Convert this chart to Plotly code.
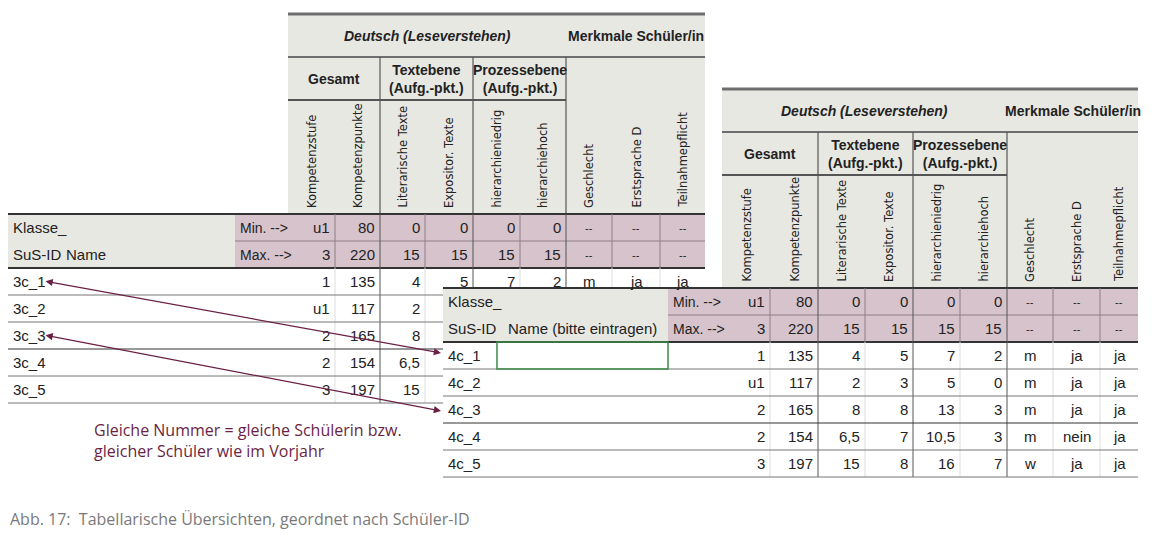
import plotly.graph_objects as go

# ---------------- data ----------------
col_headers = ["Kompetenzstufe", "Kompetenzpunkte", "Literarische Texte", "Expositor. Texte",
               "hierarchieniedrig", "hierarchiehoch", "Geschlecht", "Erstsprache D", "Teilnahmepflicht"]
group_headers = ["Gesamt", "Textebene<br>(Aufg.-pkt.)", "Prozessebene<br>(Aufg.-pkt.)"]
min_row = ["u1", "80", "0", "0", "0", "0", "--", "--", "--"]
max_row = ["3", "220", "15", "15", "15", "15", "--", "--", "--"]
ids_prev = ["3c_1", "3c_2", "3c_3", "3c_4", "3c_5"]
ids_curr = ["4c_1", "4c_2", "4c_3", "4c_4", "4c_5"]
kstufe = ["1", "u1", "2", "2", "3"]
kpunkte = ["135", "117", "165", "154", "197"]
lit = ["4", "2", "8", "6,5", "15"]
expo = ["5", "3", "8", "7", "8"]
hniedrig = ["7", "5", "13", "10,5", "16"]
hhoch = ["2", "0", "3", "3", "7"]
geschlecht = ["m", "m", "m", "m", "w"]
erstsprache = ["ja", "ja", "ja", "nein", "ja"]
teilnahme = ["ja", "ja", "ja", "ja", "ja"]
note_text = "Gleiche Nummer = gleiche Schülerin bzw.<br>gleicher Schüler wie im Vorjahr"
caption = "Abb. 17:  Tabellarische Übersichten, geordnet nach Schüler-ID"

GRAY = "#e8e8e3"
PINK = "#d6c3cb"
DARK = "#555555"
PURPLE = "#6b1f45"
NARROW = "Liberation Sans Narrow, Arial Narrow, sans-serif"

shapes, annos = [], []
CLIP = None  # (x, y): region right of x and below y is hidden for the back table

def hidden(x, y):
    return CLIP is not None and x > CLIP[0] and y > CLIP[1]

def rect(x0, y0, x1, y1, color, line=None):
    shapes.append(dict(type="rect", x0=x0, y0=y0, x1=x1, y1=y1, fillcolor=color,
                       line=dict(width=0) if line is None else line, layer="below"))

def hline(x0, x1, y, color=DARK, w=1.5):
    if CLIP is not None and y > CLIP[1]:
        x1 = min(x1, CLIP[0])
    shapes.append(dict(type="line", x0=x0, x1=x1, y0=y, y1=y, line=dict(color=color, width=w)))

def vline(x, y0, y1, color=DARK, w=1):
    if CLIP is not None and x > CLIP[0]:
        y1 = min(y1, CLIP[1])
    if y1 > y0:
        shapes.append(dict(type="line", x0=x, x1=x, y0=y0, y1=y1, line=dict(color=color, width=w)))

def text(x, y, s, xa="center", size=14, font=NARROW, color="#222", angle=0, ya="middle"):
    if hidden(x, y):
        return
    annos.append(dict(x=x, y=y, text=s, xanchor=xa, yanchor=ya, showarrow=False, textangle=angle,
                      align="left" if xa == "left" else "center",
                      font=dict(family=font, size=size, color=color)))

def table(x0, xlab, xmin, widths, top, hdr_h, rot_h, row_h, ids, name_label, name_x, white_cover=False):
    xs = [xmin]
    for w in widths:
        xs.append(xs[-1] + w)
    xe = xs[-1]
    y1 = top + hdr_h
    y2 = y1 + hdr_h
    y3 = y2 + rot_h
    ymin = y3 + row_h
    ymax = ymin + row_h
    yend = ymax + row_h * len(ids)
    if white_cover:
        rect(x0, y3, xe, yend, "white")
    rect(xs[0], top, xe, y3, GRAY)
    rect(x0, y3, xlab, ymax, GRAY)
    rect(xlab, y3, xe, ymax, PINK)
    hline(xs[0], xe, top, "#6e6e6e", 3)
    hline(xs[0], xe, y1, "#6e6e6e", 2)
    hline(xs[0], xs[6], y2, DARK, 2)
    for i in (2, 4, 6):
        vline(xs[i], y1, y3, DARK, 1.2)
    text((xs[0] + xs[6]) / 2, (top + y1) / 2, "<b><i>Deutsch (Leseverstehen)</i></b>", size=14)
    text((xs[6] + xe) / 2, (top + y1) / 2, "<b>Merkmale Schüler/in</b>", size=14)
    for g, h in enumerate(group_headers):
        text((xs[2 * g] + xs[2 * g + 2]) / 2, (y1 + y2) / 2, "<b>" + h + "</b>", size=14)
    for i, h in enumerate(col_headers):
        text((xs[i] + xs[i + 1]) / 2, y3 - 4, h, size=11.5, font="DejaVu Sans", angle=-90, ya="bottom")
    hline(x0, xe, y3, "#333", 2)
    hline(xlab, xe, ymin, "#8e7f86", 1)
    hline(x0, xe, ymax, "#333", 2)
    text(x0 + 3, (y3 + ymin) / 2, "Klasse_", xa="left", size=15)
    text(x0 + 3, (ymin + ymax) / 2, "SuS-ID", xa="left", size=15)
    text(name_x, (ymin + ymax) / 2, name_label, xa="center" if "bitte" in name_label else "left", size=15)
    text(xlab + 3, (y3 + ymin) / 2, "Min. -->", xa="left", size=14)
    text(xlab + 3, (ymin + ymax) / 2, "Max. -->", xa="left", size=14)
    cols = [kstufe, kpunkte, lit, expo, hniedrig, hhoch, geschlecht, erstsprache, teilnahme]
    for i in range(9):
        xa = "right" if i < 6 else "center"
        xx = xs[i + 1] - 3 if i < 6 else (xs[i] + xs[i + 1]) / 2
        text(xx, (y3 + ymin) / 2, min_row[i], xa=xa, size=15 if i < 6 else 11)
        text(xx, (ymin + ymax) / 2, max_row[i], xa=xa, size=15 if i < 6 else 11)
        for r in range(len(ids)):
            yy = ymax + row_h * (r + 0.5)
            text(xx, yy, cols[i][r], xa=xa, size=15)
    for i in range(1, 9):
        grp = i in (2, 4, 6)
        vline(xs[i], y3, ymax if not grp else yend, "#555" if grp else "#8e7f86", 1)
        if not grp:
            vline(xs[i], ymax, yend, "#dddddd", 1)
    for r, sid in enumerate(ids):
        yy = ymax + row_h * (r + 0.5)
        text(x0 + 3, yy, sid, xa="left", size=15)
        hline(x0, xe, ymax + row_h * (r + 1), "#333" if r == 2 else "#777", 1)
    return xs, y3, ymax, yend

# back table (previous year), partly hidden by the front table
CLIP = (443, 288)
table(8, 235, 288, [47, 45, 45, 48, 47, 46, 46, 48, 45], 14, 43, 114, 27, ids_prev, "Name", 64)
CLIP = None
# front table (current year)
xs2, y3b, ymaxb, yendb = table(443, 668, 722, [48, 48, 47, 48, 47, 47, 46, 47, 38], 89, 43, 113, 27,
                               ids_curr, "Name (bitte eintragen)", 582, white_cover=True)
shapes.append(dict(type="rect", x0=497, x1=668, y0=ymaxb, y1=ymaxb + 27,
                   line=dict(color="#3f8a4a", width=1.5)))

for (xa_, ya_), (xb, yb) in [((44, 281), (441, 353)), ((44, 335), (441, 411))]:
    annos.append(dict(x=xb, y=yb, ax=xa_, ay=ya_, xref="x", yref="y", axref="x", ayref="y",
                      text="", showarrow=True, arrowhead=2, startarrowhead=2, arrowside="end+start",
                      arrowsize=1.2, arrowwidth=1.2, arrowcolor=PURPLE))

text(92, 440, note_text, xa="left", size=16, font="Open Sans, sans-serif", color=PURPLE)
text(8, 519, caption, xa="left", size=16, font="Open Sans, sans-serif", color="#7a7a7a")

fig = go.Figure()
fig.update_layout(
    width=1156, height=542, margin=dict(l=0, r=0, t=0, b=0),
    paper_bgcolor="white", plot_bgcolor="white",
    xaxis=dict(range=[8, 1164], visible=False, fixedrange=True),
    yaxis=dict(range=[550, 8], visible=False, fixedrange=True),
    shapes=shapes, annotations=annos, showlegend=False,
)
fig.write_html("out.html")
